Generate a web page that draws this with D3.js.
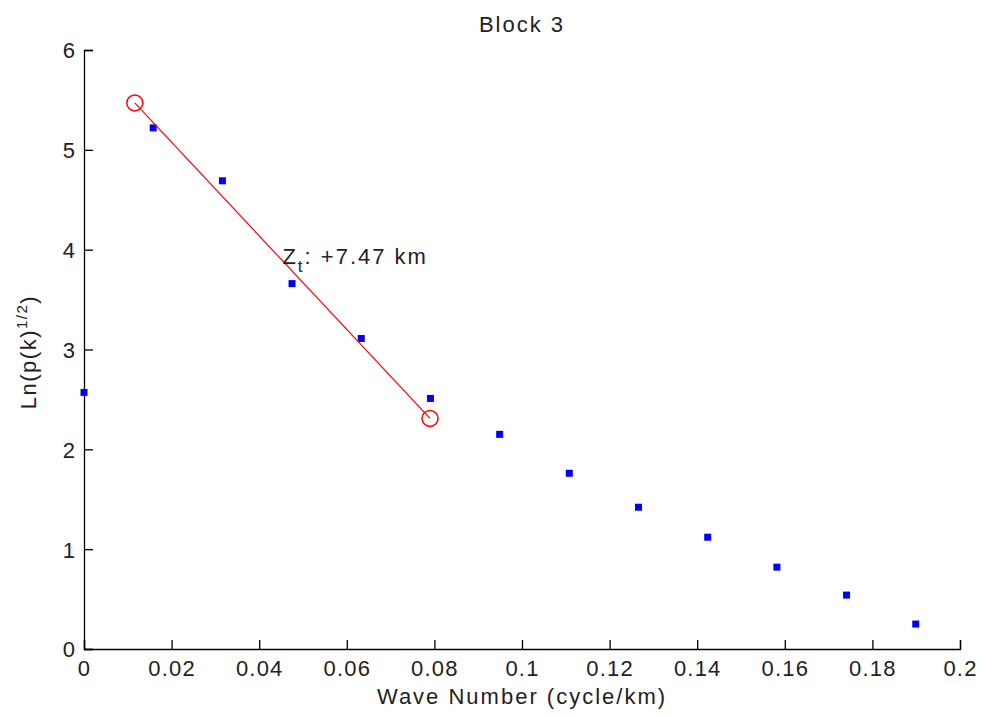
<!DOCTYPE html>
<html>
<head>
<meta charset="utf-8">
<script src="https://cdn.jsdelivr.net/npm/d3@7"></script>
<style>
  body { margin: 0; background: #fff; }
  text { font-family: Arial, "Liberation Sans", sans-serif; fill: #222; }
</style>
</head>
<body>
<div id="chart"></div>
<script>
// spectrum points
const waveNumber = [0, 0.0158, 0.0316, 0.0475, 0.0633, 0.0791, 0.0949, 0.1108, 0.1266, 0.1424, 0.1582, 0.1741, 0.1899];
const lnPower = [2.57, 5.22, 4.69, 3.66, 3.11, 2.51, 2.15, 1.76, 1.42, 1.12, 0.82, 0.54, 0.25];

// fitted line end points
const fitX = [0.0116, 0.079];
const fitY = [5.47, 2.31];

const xTicks = [0, 0.02, 0.04, 0.06, 0.08, 0.1, 0.12, 0.14, 0.16, 0.18, 0.2];
const yTicks = [0, 1, 2, 3, 4, 5, 6];

const width = 984, height = 715;
const margin = { top: 50, right: 24, bottom: 66, left: 84 };
const fs = "22px";

const svg = d3.select("#chart")
  .append("svg")
  .attr("width", width)
  .attr("height", height);

const x = d3.scaleLinear()
  .domain([0, 0.2])
  .range([margin.left, width - margin.right]);

const y = d3.scaleLinear()
  .domain([0, 6])
  .range([height - margin.bottom, margin.top]);

// axes, ticks pointing inward like matlab
const xAxis = svg.append("g")
  .attr("transform", `translate(0,${y(0)})`)
  .call(d3.axisTop(x).tickValues(xTicks).tickSize(9));
xAxis.selectAll("text").remove();
xAxis.selectAll(".tick")
  .append("text")
  .attr("y", 27)
  .attr("text-anchor", "middle")
  .attr("font-size", fs)
  .attr("letter-spacing", "1.2px")
  .text(d => d3.format("~g")(d));

const yAxis = svg.append("g")
  .attr("transform", `translate(${x(0)},0)`)
  .call(d3.axisRight(y).tickValues(yTicks).tickSize(9));
yAxis.selectAll("text").remove();
yAxis.selectAll(".tick")
  .append("text")
  .attr("x", -9)
  .attr("dy", "0.36em")
  .attr("text-anchor", "end")
  .attr("font-size", fs)
  .text(d => d);

svg.selectAll(".domain, .tick line")
  .attr("stroke", "#000")
  .attr("stroke-width", 1.3);

// data squares
svg.append("g")
  .attr("fill", "#0000ff")
  .selectAll("rect")
  .data(waveNumber)
  .join("rect")
    .attr("x", d => x(d) - 3.5)
    .attr("y", (d, i) => y(lnPower[i]) - 3.5)
    .attr("width", 7)
    .attr("height", 7);

// fit line + end circles
const fit = fitX.map((d, i) => [d, fitY[i]]);
svg.append("path")
  .datum(fit)
  .attr("fill", "none")
  .attr("stroke", "#ff0000")
  .attr("stroke-width", 1.2)
  .attr("d", d3.line().x(d => x(d[0])).y(d => y(d[1])));

svg.append("g")
  .selectAll("circle")
  .data(fit)
  .join("circle")
    .attr("cx", d => x(d[0]))
    .attr("cy", d => y(d[1]))
    .attr("r", 8)
    .attr("fill", "none")
    .attr("stroke", "#ff0000")
    .attr("stroke-width", 1.5);

// annotation
const note = svg.append("text")
  .attr("x", x(0.0453))
  .attr("y", y(3.86))
  .attr("font-size", fs)
  .attr("letter-spacing", "2px");
note.append("tspan").text("Z");
note.append("tspan").attr("font-size", "17px").attr("dy", 8).text("t");
note.append("tspan").attr("dy", -8).text(": +7.47 km");

// title and labels
svg.append("text")
  .attr("x", (margin.left + width - margin.right) / 2)
  .attr("y", 32)
  .attr("text-anchor", "middle")
  .attr("font-size", fs)
  .attr("letter-spacing", "2px")
  .text("Block 3");

svg.append("text")
  .attr("x", (margin.left + width - margin.right) / 2)
  .attr("y", 704)
  .attr("text-anchor", "middle")
  .attr("font-size", fs)
  .attr("letter-spacing", "2px")
  .text("Wave Number (cycle/km)");

const yl = svg.append("text")
  .attr("transform", "translate(36,352) rotate(-90)")
  .attr("text-anchor", "middle")
  .attr("font-size", fs)
  .attr("letter-spacing", "1.5px");
yl.append("tspan").text("Ln(p(k)");
yl.append("tspan").attr("font-size", "15px").attr("dy", -9).text("1/2");
yl.append("tspan").attr("dy", 9).text(")");
</script>
</body>
</html>
